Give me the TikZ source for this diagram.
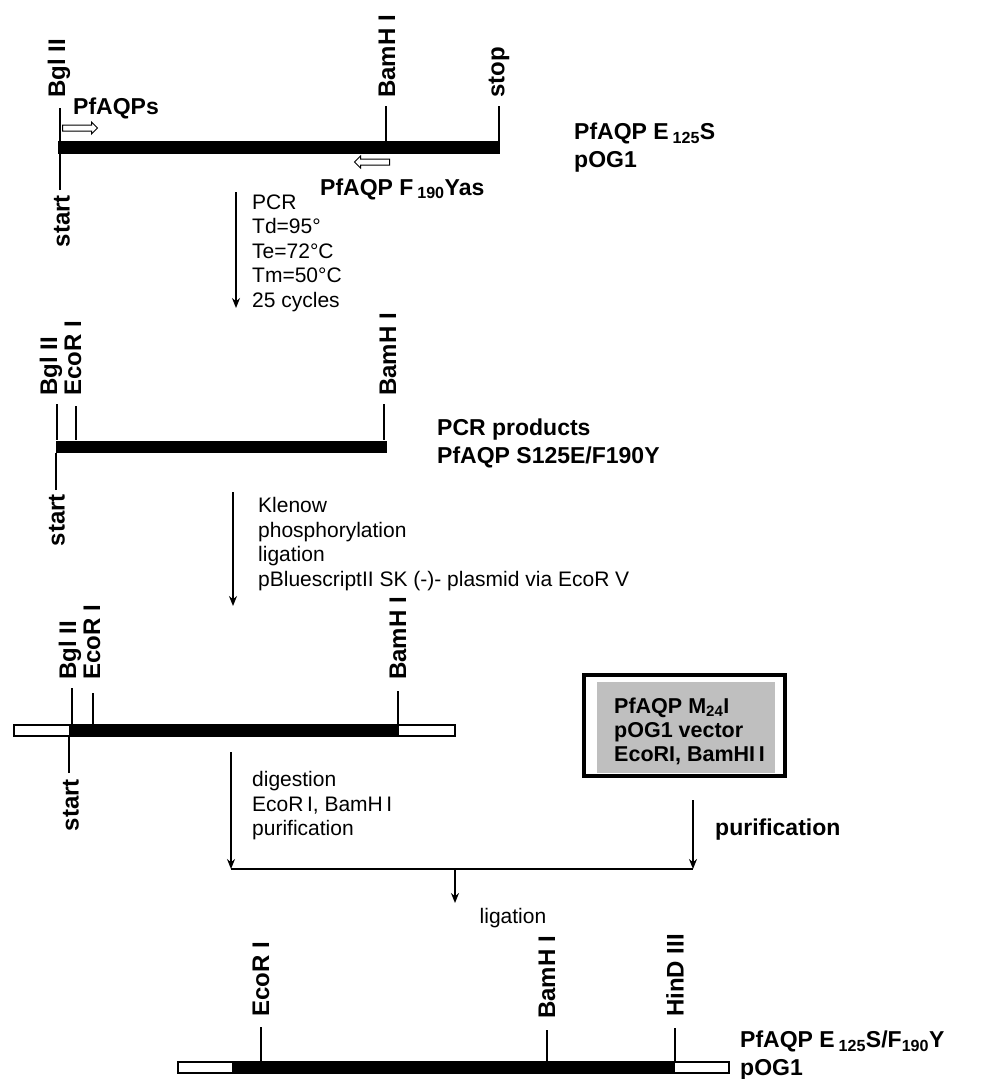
\documentclass[tikz,border=0pt]{standalone}
\usepackage{fontspec}
\setmainfont{Liberation Sans}
\usetikzlibrary{arrows.meta,shapes.arrows}
\tikzset{
    genebar/.style={fill=black, inner sep=0pt, minimum height=12pt},
    flankbar/.style={draw=black, fill=white, line width=1.2pt, inner sep=0pt, minimum height=11pt},
    site/.style={line width=1.4pt},
    sitelabel/.style={rotate=90, anchor=west, inner sep=0pt, font=\fontsize{24}{28}\selectfont\bfseries},
    startlabel/.style={rotate=90, anchor=east, inner sep=0pt, font=\fontsize{24}{28}\selectfont\bfseries},
    primer/.style={single arrow, draw=black, fill=white, line width=1pt, minimum height=35pt,
        inner sep=2.5pt, single arrow head extend=3pt},
    flowarrow/.style={line width=2pt, -{Stealth[length=10pt,width=8pt]}},
    steptext/.style={anchor=west, align=left, inner sep=0pt, font=\fontsize{21}{24.5}\selectfont},
    construct/.style={anchor=west, align=left, inner sep=0pt, font=\fontsize{23}{28}\selectfont\bfseries},
}
\begin{document}
\begin{tikzpicture}[x=1pt,y=1pt]
    \useasboundingbox (0,0) rectangle (986,-1079);
    % template gene
    \node[genebar, minimum width=442pt, minimum height=13pt] (bar1) at (279,-147.5) {};
    \node[sitelabel] (bgl1) at (59,-98) {Bgl II};
    \node[sitelabel] (bam1) at (387,-98) {BamH I};
    \node[sitelabel] (stop1) at (499,-98) {stop};
    \node[startlabel] (start1) at (62,-195) {start};
    \coordinate (s1a) at (60,-108);
    \coordinate (s1b) at (386,-106);
    \coordinate (s1c) at (499,-106);
    \coordinate (s1d) at (60,-190);
    \draw[site] (s1a) -- (s1a |- bar1.north);
    \draw[site] (s1b) -- (s1b |- bar1.north);
    \draw[site] (s1c) -- (s1c |- bar1.north);
    \draw[site] (s1d) -- (s1d |- bar1.south);
    \node[construct] (fwd) at (73,-108) {PfAQPs};
    \node[primer] (fwdarr) at (78.5,-128) {};
    \node[primer, shape border rotate=180] (revarr) at (373.5,-162) {};
    \node[construct] (rev) at (320,-189) {PfAQP F\,\textsubscript{190}Yas};
    \node[construct] (tmpl) at (574,-148) {PfAQP E\,\textsubscript{125}S\\pOG1};
    % PCR
    \coordinate (pcrtop) at (236,-192);
    \coordinate (pcrbot) at (236,-308);
    \draw[flowarrow] (pcrtop) -- (pcrbot);
    \node[steptext] (pcr) at (252,-253) {PCR\\Td=95°\\Te=72°C\\Tm=50°C\\25 cycles};
    % PCR products
    \node[genebar, minimum width=331pt] (bar2) at (221.5,-446.5) {};
    \node[sitelabel] (bgl2) at (51,-396) {Bgl II};
    \node[sitelabel] (eco2) at (73,-396) {EcoR I};
    \node[sitelabel] (bam2) at (388,-396) {BamH I};
    \node[startlabel] (start2) at (57,-494) {start};
    \coordinate (s2a) at (57,-404);
    \coordinate (s2b) at (76,-406);
    \coordinate (s2c) at (384,-404);
    \coordinate (s2d) at (56,-490);
    \draw[site] (s2a) -- (s2a |- bar2.north);
    \draw[site] (s2b) -- (s2b |- bar2.north);
    \draw[site] (s2c) -- (s2c |- bar2.north);
    \draw[site] (s2d) -- (s2d |- bar2.south);
    \node[construct] (prod) at (437,-443) {PCR products\\PfAQP S125E/F190Y};
    \coordinate (klntop) at (233,-492);
    \coordinate (klnbot) at (233,-606);
    \draw[flowarrow] (klntop) -- (klnbot);
    \node[steptext] (kln) at (258,-544) {Klenow\\phosphorylation\\ligation\\pBluescriptII SK (-)- plasmid via EcoR V};
    % subclone in pBluescript
    \node[flankbar, minimum width=441pt] (flank3) at (234.5,-730.5) {};
    \node[genebar, minimum width=330pt, minimum height=11pt] (bar3) at (234,-730.5) {};
    \node[sitelabel] (bgl3) at (70,-680) {Bgl II};
    \node[sitelabel] (eco3) at (92,-680) {EcoR I};
    \node[sitelabel] (bam3) at (398,-680) {BamH I};
    \node[startlabel] (start3) at (71,-779) {start};
    \coordinate (s3a) at (72,-688);
    \coordinate (s3b) at (93,-693);
    \coordinate (s3c) at (398,-691);
    \coordinate (s3d) at (69,-773);
    \draw[site] (s3a) -- (s3a |- bar3.north);
    \draw[site] (s3b) -- (s3b |- bar3.north);
    \draw[site] (s3c) -- (s3c |- bar3.north);
    \draw[site] (s3d) -- (s3d |- bar3.south);
    \coordinate (digtop) at (231,-752);
    \coordinate (joinl) at (231,-869);
    \draw[flowarrow] (digtop) -- (joinl);
    \node[steptext] (dig) at (252,-806) {digestion\\EcoR\,I, BamH\,I\\purification};
    % vector box
    \node[draw=black, line width=4pt, fill=white, minimum width=201pt, minimum height=101pt] (vecbox) at (684.5,-725.5) {};
    \node[fill=black!25, minimum width=178pt, minimum height=91pt, inner sep=0pt] (vecfill) at (686,-727.5) {};
    \node[anchor=west, align=left, inner sep=0pt, font=\fontsize{21.5}{24}\selectfont\bfseries] (vec) at (614,-731)
        {PfAQP M\textsubscript{24}I\\pOG1 vector\\EcoRI, BamHI\,I};
    \coordinate (vectop) at (693,-800);
    \coordinate (joinr) at (693,-869);
    \draw[flowarrow] (vectop) -- (joinr);
    \node[construct] (pur) at (715,-830) {purification};
    \draw[site] (joinl) -- (joinr);
    \coordinate (ligtop) at (455,-869);
    \coordinate (ligbot) at (455,-903);
    \draw[flowarrow] (ligtop) -- (ligbot);
    \node[steptext, anchor=center] (lig) at (513,-918) {ligation};
    % final construct
    \node[flankbar, minimum width=551pt] (flank4) at (453.5,-1067.5) {};
    \node[genebar, minimum width=443pt, minimum height=11pt] (bar4) at (453.5,-1067.5) {};
    \node[sitelabel] (eco4) at (261,-1017) {EcoR I};
    \node[sitelabel] (bam4) at (547,-1019) {BamH I};
    \node[sitelabel] (hind4) at (675,-1017) {HinD III};
    \coordinate (s4a) at (261,-1027);
    \coordinate (s4b) at (547,-1030);
    \coordinate (s4c) at (675,-1028);
    \draw[site] (s4a) -- (s4a |- bar4.north);
    \draw[site] (s4b) -- (s4b |- bar4.north);
    \draw[site] (s4c) -- (s4c |- bar4.north);
    \node[construct] (final) at (740,-1056) {PfAQP E\,\textsubscript{125}S/F\textsubscript{190}Y\\pOG1};
\end{tikzpicture}
\end{document}
